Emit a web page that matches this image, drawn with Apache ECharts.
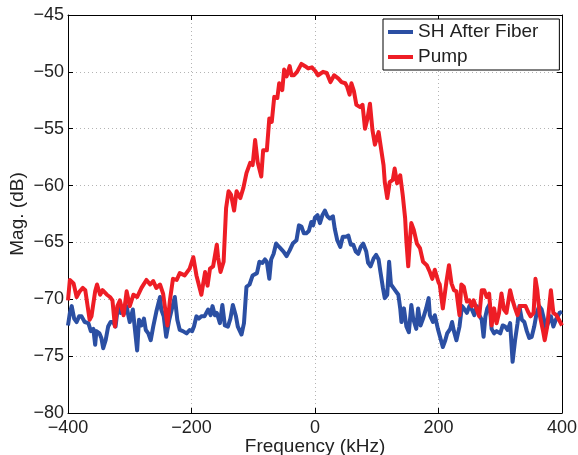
<!DOCTYPE html>
<html>
<head>
<meta charset="utf-8">
<script src="https://cdn.jsdelivr.net/npm/echarts@6/dist/echarts.min.js"></script>
<style>
	html, body { margin: 0; padding: 0; background: #fff; }
	#chart { width: 578px; height: 455px; }
</style>
</head>
<body>
<div id="chart"></div>
<script>
// Pump spectrum (red)
const pumpFreq = [-400, -397, -391, -386, -381, -376, -372, -365, -362, -356, -353, -348, -344, -337, -332, -328, -324, -320, -316, -310,
	-305, -300, -294, -288, -281, -273, -267, -262, -257, -251, -246, -239, -235, -230, -224, -219, -211, -203, -197, -192,
	-184, -178, -174, -170, -165, -159, -157, -153, -148, -144, -140, -136, -131, -127, -121, -116, -111, -105, -101, -97,
	-93, -87, -84, -78, -74, -70, -66, -61, -58, -53, -50, -46, -41, -38, -34, -29, -22, -16, -11, -5,
	0, 5, 13, 19, 25, 31, 38, 43, 49, 52, 56, 59, 63, 67, 73, 77, 81, 85, 89, 93,
	97, 103, 106, 111, 113, 117, 121, 126, 129, 133, 138, 142, 146, 148, 151, 154, 156, 160, 165, 170,
	175, 181, 186, 190, 194, 200, 202, 207, 210, 213, 217, 221, 225, 229, 234, 237, 241, 246, 250, 254,
	257, 262, 266, 270, 274, 278, 282, 286, 290, 294, 298, 302, 306, 310, 316, 320, 324, 328, 332, 336,
	341, 345, 349, 354, 357, 360, 364, 369, 372, 376, 382, 386, 391, 397, 400];
const pumpMag = [-70.1, -68.3, -68.6, -69.8, -69.3, -69.0, -69.2, -71.8, -71.5, -69.3, -68.7, -69.6, -69.2, -69.6, -69.8, -70.1, -72.4, -70.6, -70.1, -71.4,
	-69.3, -70.6, -69.6, -69.8, -69.0, -68.3, -68.7, -68.4, -69.0, -68.7, -69.5, -72.3, -70.1, -68.2, -68.3, -67.7, -67.9, -67.3, -66.3, -67.9,
	-69.6, -67.6, -68.8, -67.3, -67.1, -65.2, -66.3, -67.6, -66.7, -62.0, -60.5, -60.8, -62.2, -60.5, -61.1, -60.2, -58.9, -58.0, -58.2, -56.0,
	-57.9, -59.2, -56.9, -56.9, -54.1, -54.4, -52.2, -52.3, -51.0, -51.6, -49.8, -50.4, -49.5, -50.3, -50.3, -50.0, -49.3, -49.5, -49.7, -49.6,
	-49.9, -50.3, -50.0, -50.1, -50.9, -50.3, -50.6, -50.9, -51.0, -51.3, -52.0, -51.0, -51.7, -52.9, -53.1, -52.9, -55.0, -54.1, -52.8, -55.1,
	-56.4, -55.3, -56.4, -58.2, -59.7, -61.1, -59.7, -59.5, -58.5, -59.8, -59.1, -60.8, -62.9, -64.9, -67.1, -64.6, -63.3, -63.9, -65.1, -65.5,
	-66.7, -67.0, -67.6, -68.2, -67.4, -68.5, -68.7, -70.8, -69.6, -68.4, -67.0, -68.6, -69.2, -69.3, -71.4, -68.7, -68.9, -70.2, -70.1, -70.6,
	-70.1, -70.9, -71.5, -69.2, -69.2, -69.8, -69.5, -72.3, -70.8, -72.1, -71.2, -69.5, -70.9, -71.2, -69.2, -70.1, -70.8, -71.4, -70.6, -70.6,
	-70.6, -71.1, -71.5, -71.2, -68.2, -69.2, -71.4, -72.7, -73.6, -72.4, -69.2, -71.2, -71.4, -72.0, -72.3];

// SH after fiber (blue)
const shFreq = [-400, -397, -394, -390, -386, -382, -378, -373, -367, -363, -359, -356, -354, -349, -346, -343, -339, -335, -331, -327,
	-323, -319, -315, -312, -308, -305, -302, -300, -295, -292, -288, -285, -281, -277, -274, -270, -266, -262, -257, -251,
	-249, -245, -241, -236, -232, -227, -223, -219, -214, -208, -203, -199, -196, -192, -188, -184, -179, -173, -169, -166,
	-162, -159, -154, -150, -146, -141, -137, -133, -128, -125, -119, -115, -111, -106, -101, -98, -94, -90, -85, -81,
	-78, -74, -71, -67, -63, -58, -55, -51, -46, -41, -36, -30, -26, -22, -18, -14, -10, -6, -3, 0,
	4, 8, 12, 16, 20, 24, 29, 32, 36, 41, 45, 50, 54, 58, 62, 66, 70, 74, 78, 83,
	86, 90, 95, 99, 103, 106, 110, 113, 117, 120, 123, 127, 131, 135, 138, 140, 144, 148, 152, 156,
	159, 164, 167, 171, 175, 180, 184, 186, 191, 194, 199, 201, 207, 211, 214, 219, 222, 225, 229, 234,
	238, 241, 246, 250, 254, 258, 262, 266, 270, 273, 276, 279, 283, 286, 290, 294, 300, 304, 308, 312,
	316, 320, 324, 328, 331, 335, 339, 343, 347, 351, 355, 359, 363, 367, 371, 374, 378, 382, 386, 390,
	396, 400];
const shMag = [-72.3, -71.2, -70.6, -71.7, -72.0, -71.5, -71.5, -72.0, -72.1, -72.8, -72.6, -74.0, -72.8, -73.0, -73.4, -74.3, -73.6, -72.4, -72.0, -72.0,
	-72.4, -70.6, -71.2, -70.9, -71.2, -70.6, -71.5, -72.0, -70.9, -70.9, -74.5, -71.8, -72.3, -71.7, -72.7, -73.0, -73.6, -72.4, -71.1, -69.8,
	-70.9, -71.5, -73.3, -71.8, -70.9, -69.8, -71.8, -72.7, -72.8, -73.0, -72.7, -72.8, -72.4, -71.5, -71.7, -71.5, -71.5, -70.9, -71.4, -70.6,
	-71.4, -71.2, -72.1, -70.5, -72.3, -72.4, -71.7, -70.5, -71.5, -72.4, -73.1, -72.1, -68.9, -68.7, -67.9, -68.0, -67.7, -66.7, -66.8, -66.5,
	-66.7, -68.2, -66.5, -66.0, -65.1, -65.4, -65.5, -65.8, -66.2, -65.7, -65.1, -64.8, -63.5, -63.6, -64.2, -64.2, -64.0, -63.2, -63.5, -62.8,
	-62.6, -63.3, -62.6, -62.2, -62.7, -62.9, -62.7, -63.8, -64.8, -65.4, -64.5, -64.5, -64.4, -65.2, -65.2, -65.8, -66.0, -65.4, -65.1, -65.8,
	-66.8, -67.1, -66.4, -66.1, -66.5, -67.6, -69.0, -69.9, -69.6, -66.7, -68.7, -69.0, -69.3, -69.6, -70.8, -72.0, -70.8, -72.4, -72.9, -70.5,
	-71.7, -72.6, -70.8, -72.3, -71.7, -70.8, -69.9, -71.4, -72.0, -71.4, -72.6, -73.0, -74.2, -73.6, -73.0, -72.6, -72.0, -72.8, -73.6, -72.4,
	-70.6, -70.8, -71.2, -70.6, -70.9, -71.4, -70.6, -71.4, -71.8, -73.3, -71.5, -70.8, -70.4, -72.6, -73.0, -72.8, -73.0, -72.3, -72.4, -72.7,
	-72.1, -75.5, -73.6, -72.1, -70.6, -71.8, -72.0, -72.8, -73.4, -73.3, -72.4, -71.2, -70.6, -70.9, -71.8, -72.6, -72.0, -71.5, -72.4, -71.8,
	-71.2, -71.1];

const xTicks = [-400, -200, 0, 200, 400];
const seriesNames = ['SH After Fiber', 'Pump'];

const font = 'Liberation Sans, Arial, Helvetica, sans-serif';
const minus = (v) => String(v).replace('-', '\u2212');
const pairs = (xs, ys) => xs.map((x, i) => [x, ys[i]]);

const gridLine = { show: true, lineStyle: { color: '#b4b4b4', type: [1, 3], width: 1 } };
const frameAxis = {
	axisLine: { show: true, onZero: false, lineStyle: { color: '#000', width: 1 } },
	axisTick: { show: true, inside: true, length: 5, lineStyle: { color: '#000' } },
};

const myChart = echarts.init(document.getElementById('chart'), null, { renderer: 'canvas' });
const option = {
	animation: false,
	backgroundColor: '#fff',
	textStyle: { fontFamily: font },
	// 固定绘图区，标题允许超出底边
	grid: { left: 68, right: 16, top: 15, bottom: 42, outerBoundsMode: 'none', containLabel: false },
	legend: {
		data: seriesNames,
		orient: 'vertical',
		left: 383,
		top: 19,
		icon: 'rect',
		itemWidth: 25,
		itemHeight: 4,
		itemGap: 5,
		padding: [3, 21, 3, 5],
		borderColor: '#000',
		borderWidth: 1,
		backgroundColor: '#fff',
		textStyle: { fontFamily: font, fontSize: 19, lineHeight: 20, color: '#222' },
	},
	xAxis: [
		{
			type: 'value',
			min: xTicks[0],
			max: xTicks[xTicks.length - 1],
			interval: 200,
			...frameAxis,
			splitLine: gridLine,
			axisLabel: { fontSize: 18, color: '#222', margin: 6, formatter: minus },
			name: 'Frequency (kHz)',
			nameLocation: 'middle',
			nameGap: 24,
			nameMoveOverlap: false,
			nameTextStyle: { fontSize: 19, color: '#222' },
		},
		{
			type: 'value',
			position: 'top',
			min: xTicks[0],
			max: xTicks[xTicks.length - 1],
			interval: 200,
			...frameAxis,
			splitLine: { show: false },
			axisLabel: { show: false },
		},
	],
	yAxis: [
		{
			type: 'value',
			min: -80,
			max: -45,
			interval: 5,
			...frameAxis,
			splitLine: gridLine,
			axisLabel: { fontSize: 18, color: '#222', margin: 4, formatter: minus },
			name: 'Mag. (dB)',
			nameLocation: 'middle',
			nameGap: 41,
			nameMoveOverlap: false,
			nameTextStyle: { fontSize: 19, color: '#222' },
		},
		{
			type: 'value',
			position: 'right',
			min: -80,
			max: -45,
			interval: 5,
			...frameAxis,
			splitLine: { show: false },
			axisLabel: { show: false },
		},
	],
	series: [
		{
			name: seriesNames[0],
			type: 'line',
			showSymbol: false,
			color: '#2b4fa3',
			lineStyle: { width: 4, join: 'round' },
			data: pairs(shFreq, shMag),
		},
		{
			name: seriesNames[1],
			type: 'line',
			showSymbol: false,
			color: '#ee1d25',
			lineStyle: { width: 4, join: 'round' },
			data: pairs(pumpFreq, pumpMag),
		},
	],
};
myChart.setOption(option, true);
</script>
</body>
</html>
